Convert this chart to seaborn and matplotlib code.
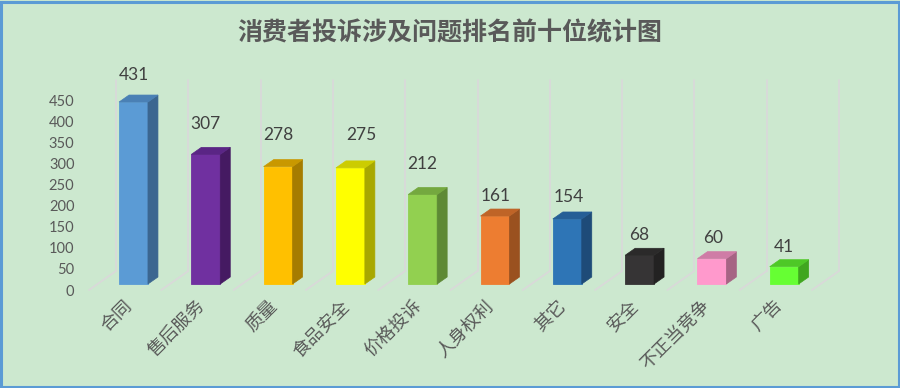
import matplotlib
matplotlib.use("Agg")
import matplotlib.pyplot as plt
import matplotlib.transforms as mtransforms
import seaborn as sns
import pandas as pd
from matplotlib.patches import Polygon, Rectangle

categories = ["合同", "售后服务", "质量", "食品安全", "价格投诉", "人身权利", "其它", "安全", "不正当竞争", "广告"]
values = [431, 307, 278, 275, 212, 161, 154, 68, 60, 41]
front_colors = ["#5B9BD5", "#7030A0", "#FFC000", "#FFFF00", "#92D050", "#ED7D31", "#2E75B6", "#363435", "#FF99CC", "#66FF33"]
side_colors = ["#3B6690", "#451A62", "#A67C00", "#A8A800", "#5E8935", "#9A511F", "#1E4B78", "#232222", "#A66484", "#40A620"]
top_colors = ["#4A80B5", "#5A2585", "#C99800", "#CCCC00", "#74A83F", "#BF6427", "#255E96", "#2B2A2A", "#CF7CA6", "#4EC827"]
yticks = [0, 50, 100, 150, 200, 250, 300, 350, 400, 450]
title = "消费者投诉涉及问题排名前十位统计图"

# label placement tweaks (pixels), as laid out in the source chart
label_gap_px = [12, 15, 17, 18, 15, 5, 7, 5, 6, 5]
label_dx_px = [0, 0, 0, 11, 0, 1, 1, 0, 1, 0]

sns.set_theme(style="white")
plt.rcParams["font.family"] = ["Lato", "Noto Sans CJK SC", "DejaVu Sans"]

BG = "#CCE8CF"
TXT = "#595959"

fig = plt.figure(figsize=(9, 3.88), dpi=100)
fig.patch.set_facecolor(BG)

# axes placed in pixel terms: x 80..860, y 70..290
ax = fig.add_axes([80 / 900, 1 - 290 / 388, 780 / 900, 220 / 388])
ax.set_facecolor("none")

px_per_cat = 72.3
px_per_unit = 190 / 450.0
xl = (80 - 133.5) / px_per_cat
xr = (860 - 133.5) / px_per_cat

df = pd.DataFrame({"cat": categories, "val": values})
sns.barplot(data=df, x="cat", y="val", hue="cat", palette=front_colors,
            legend=False, width=0.40, ax=ax, saturation=1, zorder=3)
ax.set_xlim(xl, xr)
ax.set_ylim(0, 220 / px_per_unit)

base = 6 / px_per_unit
dx = 10 / px_per_cat
dy = 7 / px_per_unit

for i, p in enumerate(ax.patches):
    v = values[i]
    p.set_y(base)
    p.set_height(v)
    p.set_edgecolor(front_colors[i])
    p.set_linewidth(0.6)
    l = p.get_x()
    r = l + p.get_width()
    top = base + v
    side = Polygon([(r, base), (r + dx, base + dy), (r + dx, top + dy), (r, top)],
                   closed=True, facecolor=side_colors[i], edgecolor=side_colors[i],
                   linewidth=0.5, zorder=3)
    topf = Polygon([(l, top), (r, top), (r + dx, top + dy), (l + dx, top + dy)],
                   closed=True, facecolor=top_colors[i], edgecolor=top_colors[i],
                   linewidth=0.5, zorder=3)
    ax.add_patch(side)
    ax.add_patch(topf)
    ax.annotate(str(v), xy=((l + r) / 2, top + dy),
                xytext=(label_dx_px[i] * 0.72, label_gap_px[i] * 0.72),
                textcoords="offset points", ha="center", va="bottom",
                fontsize=12.5, color="#404040", zorder=5)

# back-wall vertical lines and floor diagonals
front_off = (89 - 133.5) / px_per_cat
back_off = (116 - 133.5) / px_per_cat
back_y = 19 / px_per_unit
wall_top = 210 / px_per_unit
for k in range(len(categories) + 1):
    ax.plot([k + front_off, k + back_off], [0, back_y], color="#D9D9D9", lw=1.3,
            zorder=1, clip_on=False)
    ax.plot([k + back_off, k + back_off], [back_y, wall_top], color="#D9D9D9",
            lw=1.3, zorder=1, clip_on=False)

ax.set_yticks(yticks)
ax.set_yticklabels([str(t) for t in yticks])
ax.tick_params(axis="y", length=0, pad=4, labelsize=10.5, labelcolor=TXT)
ax.set_xticks(range(len(categories)))
ax.set_xticklabels(categories, rotation=45, ha="right", va="center",
                   rotation_mode="anchor", family=["Noto Sans CJK SC", "DejaVu Sans"])
ax.tick_params(axis="x", length=0, pad=9.5, labelsize=13, labelcolor=TXT)
shift = mtransforms.ScaledTranslation(-4 / 100, 0, fig.dpi_scale_trans)
for lab in ax.get_xticklabels():
    lab.set_transform(lab.get_transform() + shift)
ax.set_xlabel("")
ax.set_ylabel("")
for s in ax.spines.values():
    s.set_visible(False)
ax.grid(False)

fig.text(0.5, 1 - 33 / 388, title, ha="center", va="center", fontsize=18,
         fontweight="bold", color=TXT, family=["Noto Sans CJK SC", "DejaVu Sans"])

border = Rectangle((0.0015, 0.003), 0.997, 0.993, transform=fig.transFigure,
                   fill=False, edgecolor="#5B9BD5", linewidth=2.2)
fig.patches.append(border)

fig.savefig("out.png", dpi=100, facecolor=BG)
